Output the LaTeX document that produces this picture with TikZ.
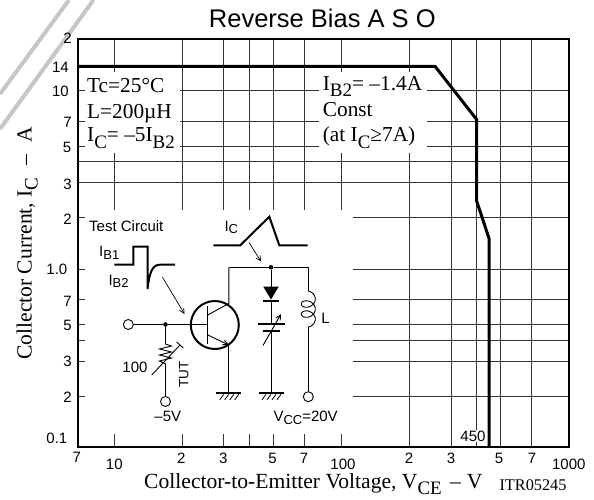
\documentclass[tikz,border=0pt]{standalone}
\usepackage{fontspec}
\setmainfont{Liberation Serif}
\setsansfont{Liberation Sans}
\usetikzlibrary{arrows.meta}
\newcommand{\dn}[1]{\raisebox{-6pt}{\fontsize{19}{19}\selectfont #1}}
\newcommand{\sdn}[1]{\raisebox{-2.5pt}{\fontsize{13}{13}\selectfont #1}}
\tikzset{gndsym/.pic={
  \draw[line width=1.8pt] (-12.5,0) -- (12.5,0);
  \foreach \h in {-8,-3,2,7} \draw[line width=0.8pt] (\h+3,1) -- (\h-1,6.5);
}}
\begin{document}
\begin{tikzpicture}[x=1pt,y=-1pt,
  gridl/.style={line width=0.9pt, black!80},
  framel/.style={line width=1.8pt, black},
  soa/.style={line width=3pt, black, line join=miter},
  tlab/.style={font=\sffamily\fontsize{15}{15}\selectfont, inner sep=0pt},
  ser/.style={font=\fontsize{21.3}{21.3}\selectfont, inner sep=0pt},
  axl/.style={font=\fontsize{21.6}{21.6}\selectfont, inner sep=0pt},
  ctxt/.style={font=\sffamily\fontsize{15}{15}\selectfont, inner sep=0pt},
  wire/.style={line width=0.9pt},
  wave/.style={line width=2pt, line join=miter},
  thinarrow/.style={line width=0.7pt, -{Straight Barb[length=5pt,width=5pt]}},
  term/.style={circle, draw, line width=0.9pt, fill=white, minimum size=10pt, inner sep=0pt},
  jdot/.style={circle, fill=black, minimum size=4.6pt, inner sep=0pt}
]
\useasboundingbox (0,0) rectangle (594,500);
\fill[white] (0,0) rectangle (594,500);

% watermark strokes
\draw[gray!45, line width=4pt] (69,0) -- (0,94);
\draw[gray!45, line width=4pt] (93.5,0) -- (0,129);

% title
\node[font=\sffamily\fontsize{25.5}{25.5}\selectfont, inner sep=0pt, anchor=base] (title) at (322.3,27.5) {Reverse Bias A S O};

% grid
\foreach \gx in {114.7,182,223.7,249.3,273.3,304.7,341.7,409.3,451,476.3,500.3,531.7}
  \draw[gridl] (\gx,39) -- (\gx,446.7);
\foreach \gy in {90,121,146,161.7,182.7,217.7,269,299.3,324.3,340.7,361,396}
  \draw[gridl] (77.7,\gy) -- (569.3,\gy);

% white areas
\fill[white] (85,72) rectangle (180,153);
\fill[white] (319,72) rectangle (427,153);
\fill[white] (85,209.5) rectangle (352.5,434);

% frame
\draw[framel] (77.7,39) rectangle (569.3,446.7);

% SOA boundary
\draw[soa] (77.7,66.3) -- (435,66.3) -- (476.5,119.3) -- (476.5,200.7) -- (489,238.3) -- (489,446.7);
\node[tlab, fill=white, inner sep=1pt] (l450) at (473,436) {450};

% y tick labels
\foreach \v/\px/\py [count=\i] in {2/72/38.7,14/69/67.8,10/69/91,7/72/122,5/71.5/147.5,3/72/184,2/72/219,1.0/67.5/269.5,7/72/301.7,5/72/325.5,3/72/361.7,2/72/397,0.1/67.5/438.7}
  \node[tlab, anchor=east] (yl\i) at (\px,\py) {\v};
% x tick labels
\foreach \v/\px/\py [count=\i] in {7/76.7/457.5,10/114.3/464,2/181.3/458,3/223.3/458,5/272.5/458,7/304/458,100/343/464,2/409/458,3/451/458,5/499/458,7/532/458,1000/568.8/464}
  \node[tlab] (xl\i) at (\px,\py) {\v};

% axis titles
\node[axl, rotate=90, anchor=base west] (ytitle) at (31.7,360) {Collector Current, I\dn{C}};
\node[axl, rotate=90, anchor=base] (ydash) at (31.7,160) {–};
\node[axl, rotate=90, anchor=base west] (yunit) at (31.7,142.5) {A};
\node[axl, anchor=base west] (xtitle) at (144,488) {Collector-to-Emitter Voltage, V\dn{CE}};
\node[axl, anchor=base] (xdash) at (455.5,488) {–};
\node[axl, anchor=base west] (xunit) at (466.7,488) {V};
\node[font=\fontsize{16.3}{16.3}\selectfont, inner sep=0pt, anchor=base west] (code) at (499.3,490) {ITR05245};

% condition texts
\node[ser, anchor=base west] (c1) at (87,93) {Tc=25°C};
\node[ser, anchor=base west] (c2) at (87,118) {L=200µH};
\node[ser, anchor=base west] (c3) at (87,142) {I\dn{C}= –5I\dn{B2}};
\node[ser, anchor=base west] (d1) at (322.7,91) {I\dn{B2}= –1.4A};
\node[ser, anchor=base west] (d2) at (322.7,117) {Const};
\node[ser, anchor=base west] (d3) at (322.7,142) {(at I\dn{C}≥7A)};

% ---------- test circuit ----------
\node[ctxt, anchor=base west] (tc) at (89,231.7) {Test Circuit};
\node[ctxt, anchor=base west] (ib1) at (99,256.7) {I\sdn{B1}};
\node[ctxt, anchor=base west] (ib2) at (108.3,285) {I\sdn{B2}};
\node[ctxt, anchor=base west] (icl) at (224.3,231) {I\sdn{C}};

% waveforms
\draw[wave] (114.3,264.7) -- (133.3,264.7) -- (133.3,246.7) -- (147.5,246.7) -- (147.5,289)
  .. controls (149.5,272) and (152.5,264.7) .. (160,264.7) -- (175,264.7);
\draw[wave] (213.3,245.3) -- (240.3,245.3) -- (269.3,216.7) -- (279.3,245.3) -- (307.7,245.3);

% pointer arrows
\coordinate (aw1) at (162.5,277.3); \coordinate (aw1e) at (184.5,314);
\draw[thinarrow] (aw1) -- (aw1e);
\coordinate (aw2) at (249,242.5); \coordinate (aw2e) at (261,261.5);
\draw[thinarrow] (aw2) -- (aw2e);

% base side
\node[term] (tin) at (128.3,324.5) {};
\node[jdot] (jb) at (165.5,324.5) {};
\coordinate (bbar) at (207.8,324.5);
\draw[wire] (tin) -- (jb) -- (bbar);

% transistor
\node[circle, draw, line width=2pt, minimum size=48pt, inner sep=0pt] (Q) at (214.8,325) {};
\draw[line width=1.2pt] (207.8,306) -- (207.8,344);
\coordinate (ck) at (228.8,303.5);
\coordinate (ctop) at (228.8,267.3);
\draw[wire] (207.8,315) -- (ck) -- (ctop);
\coordinate (ek) at (228.8,345);
\draw[wire, -{Straight Barb[length=5pt,width=5pt]}] (207.8,335) -- (ek);
\coordinate (g1) at (228.8,393.3);
\draw[wire] (ek) -- (g1);
\pic at (g1) {gndsym};

% resistor branch
\coordinate (r0) at (165.5,344);
\coordinate (r1) at (165.5,364);
\node[term] (tm5) at (165.5,401.5) {};
\draw[wire] (jb) -- (r0) -- (171.5,346) -- (159.5,349) -- (171.5,352) -- (159.5,355) -- (171.5,358) -- (159.5,361) -- (r1) -- (tm5);
\draw[wire] (151.7,375) -- (180,345);
\draw[wire] (176.7,341.9) -- (183.3,348.1);
\node[ctxt] (r100) at (135,367.5) {100};
\node[font=\sffamily\fontsize{13.5}{13.5}\selectfont, inner sep=0pt, rotate=90] (tut) at (183.8,374.5) {TUT};
\node[ctxt] (m5v) at (167.8,416) {–5V};

% top rail
\node[jdot] (jt) at (271,267.3) {};
\coordinate (ltop) at (308.3,267.3);
\coordinate (lc0) at (308.3,291);
\draw[wire] (ctop) -- (jt) -- (ltop) -- (lc0);

% inductor
\draw[wire] plot[domain=-1.5708:14.1372, samples=160, smooth, variable=\t]
  ({308.3+7*cos(\t r)}, {299.0+1.6*\t+5.5*sin(\t r)});
\coordinate (lc1) at (308.3,327.1);
\node[term] (tvcc) at (308.3,396.7) {};
\draw[wire] (lc1) -- (tvcc);
\node[ctxt] (lL) at (325.5,318) {L};
\node[ctxt, anchor=base west] (vcc) at (273.3,421.7) {V\sdn{CC}=20V};

% diode + variable capacitor
\coordinate (dtop) at (271,286.7);
\draw[wire] (jt) -- (dtop);
\fill (263.3,286.7) -- (278.7,286.7) -- (271,299.5) -- cycle;
\draw[line width=2pt] (262.7,300.5) -- (279.3,300.5);
\coordinate (cp1) at (271,324);
\coordinate (cp2) at (271,331);
\draw[wire] (271,300.5) -- (cp1);
\draw[line width=2pt] (257.7,324) -- (284.7,324);
\draw[line width=2pt] (262.7,331) -- (279.7,331);
\coordinate (g2) at (271,393.3);
\draw[wire] (cp2) -- (g2);
\pic at (g2) {gndsym};
\draw[wire, -{Straight Barb[length=5pt,width=5pt]}] (263,345.5) -- (281,314);

\end{tikzpicture}
\end{document}
